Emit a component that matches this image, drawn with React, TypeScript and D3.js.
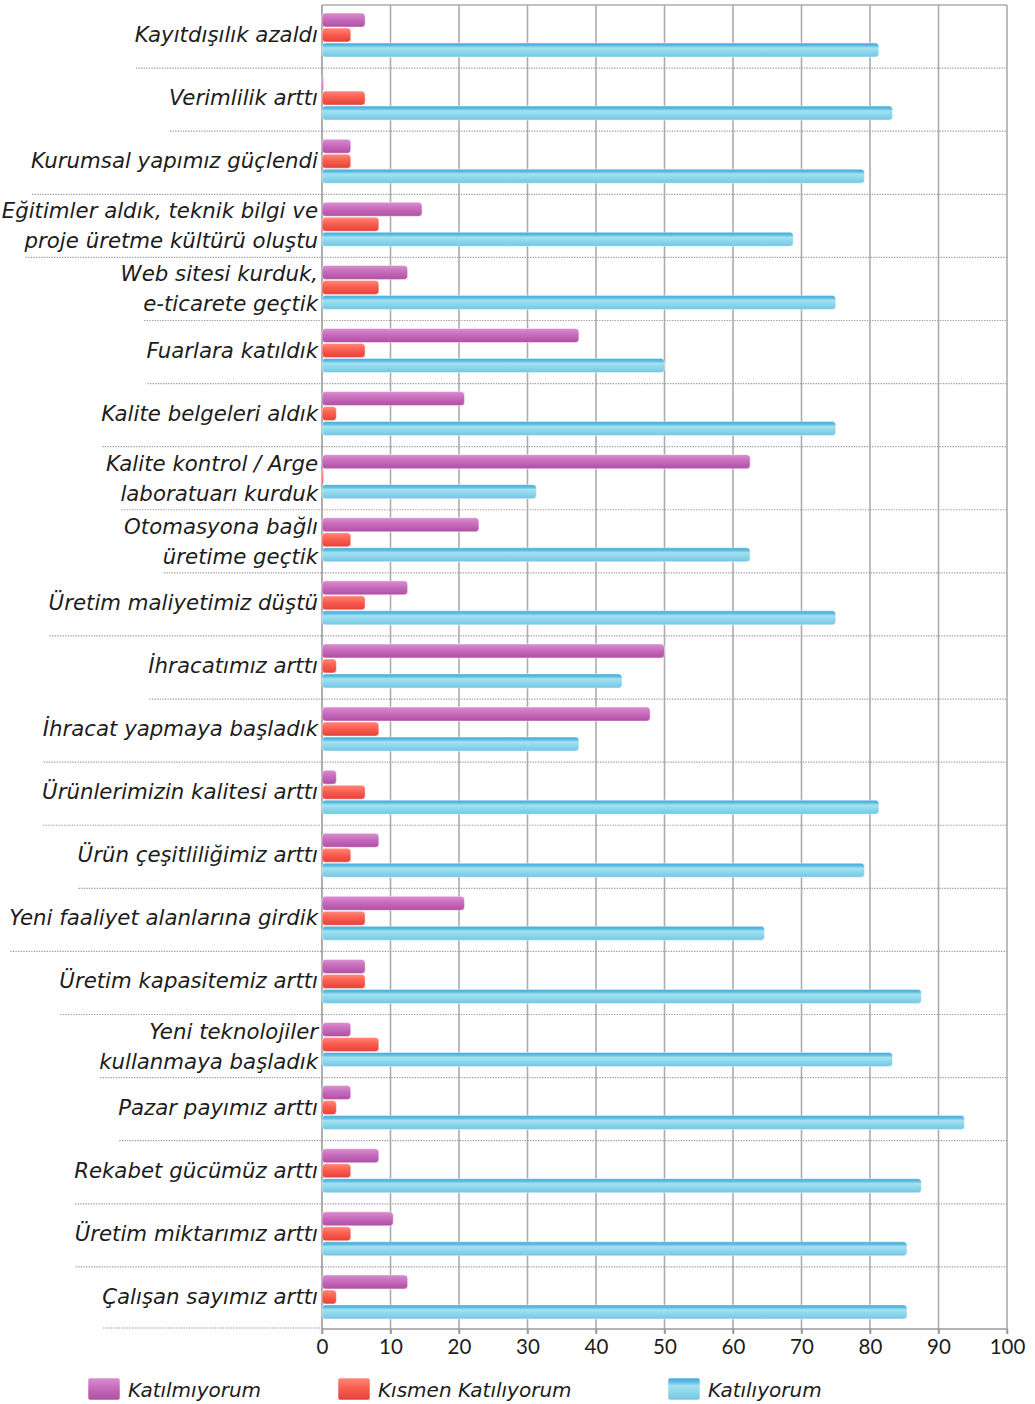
import React, { useEffect, useRef } from "react";
import * as d3 from "d3";

// survey answers, % of firms (n = 48)
const categories = [
  ["Kayıtdışılık azaldı"],
  ["Verimlilik arttı"],
  ["Kurumsal yapımız güçlendi"],
  ["Eğitimler aldık, teknik bilgi ve", "proje üretme kültürü oluştu"],
  ["Web sitesi kurduk,", "e-ticarete geçtik"],
  ["Fuarlara katıldık"],
  ["Kalite belgeleri aldık"],
  ["Kalite kontrol / Arge", "laboratuarı kurduk"],
  ["Otomasyona bağlı", "üretime geçtik"],
  ["Üretim maliyetimiz düştü"],
  ["İhracatımız arttı"],
  ["İhracat yapmaya başladık"],
  ["Ürünlerimizin kalitesi arttı"],
  ["Ürün çeşitliliğimiz arttı"],
  ["Yeni faaliyet alanlarına girdik"],
  ["Üretim kapasitemiz arttı"],
  ["Yeni teknolojiler", "kullanmaya başladık"],
  ["Pazar payımız arttı"],
  ["Rekabet gücümüz arttı"],
  ["Üretim miktarımız arttı"],
  ["Çalışan sayımız arttı"],
];

const katilmiyorum = [6.3, 0, 4.2, 14.6, 12.5, 37.5, 20.8, 62.5, 22.9, 12.5, 50, 47.9, 2.1, 8.3, 20.8, 6.3, 4.2, 4.2, 8.3, 10.4, 12.5];
const kismen = [4.2, 6.3, 4.2, 8.3, 8.3, 6.3, 2.1, 0, 4.2, 6.3, 2.1, 8.3, 6.3, 4.2, 6.3, 6.3, 8.3, 2.1, 4.2, 4.2, 2.1];
const katiliyorum = [81.3, 83.3, 79.2, 68.8, 75, 50, 75, 31.3, 62.5, 75, 43.8, 37.5, 81.3, 79.2, 64.6, 87.5, 83.3, 93.8, 87.5, 85.4, 85.4];

const seriesNames = ["Katılmıyorum", "Kısmen Katılıyorum", "Katılıyorum"];
const xTicks = [0, 10, 20, 30, 40, 50, 60, 70, 80, 90, 100];

const W = 1035, H = 1404;
const FONT = "'DejaVu Sans', 'Open Sans', sans-serif";
const TICK_FONT = "Lato, 'Open Sans', sans-serif";

export default function App() {
  const ref = useRef(null);

  useEffect(() => {
    const svg = d3.select(ref.current);
    svg.selectAll("*").remove();

    const x = d3.scaleLinear().domain([0, 100]).range([322, 1007]);
    const y = d3.scaleBand().domain(d3.range(categories.length).map(String)).range([5, 1330]);
    const band = y.bandwidth();

    const defs = svg.append("defs");
    const grads = [
      [["0", "#d98fd0"], ["0.45", "#c76cbc"], ["1", "#b04ea4"]],
      [["0", "#ff8878"], ["0.45", "#fa5f50"], ["1", "#e5403a"]],
      [["0", "#45acd9"], ["0.18", "#5bbbe2"], ["0.35", "#a4e2f0"], ["1", "#72c6e5"]],
    ];
    grads.forEach((stops, i) => {
      const g = defs.append("linearGradient").attr("id", "g" + i).attr("x1", 0).attr("y1", 0).attr("x2", 0).attr("y2", 1);
      stops.forEach(([o, c]) => g.append("stop").attr("offset", o).attr("stop-color", c));
    });

    // grid
    const grid = svg.append("g");
    grid.selectAll("line.v").data(xTicks).enter().append("line")
      .attr("x1", d => x(d)).attr("x2", d => x(d))
      .attr("y1", 5).attr("y2", 1334)
      .attr("stroke", d => d === 0 ? "#9a9a9a" : "#acacac")
      .attr("stroke-width", 1.6);
    grid.append("line").attr("x1", x(0)).attr("x2", x(100)).attr("y1", 5).attr("y2", 5)
      .attr("stroke", "#acacac").attr("stroke-width", 1.6);
    grid.append("line").attr("x1", x(0)).attr("x2", x(100)).attr("y1", 1329).attr("y2", 1329)
      .attr("stroke", "#9a9a9a").attr("stroke-width", 1.6);

    // labels
    const labels = svg.append("g").attr("font-family", FONT).attr("font-style", "italic")
      .attr("font-size", 21.3).attr("fill", "#1d1d1b").attr("text-anchor", "end");

    const seps = svg.append("g");
    categories.forEach((lines, i) => {
      const cy = y(String(i)) + band / 2;
      let lastLeft = 318;
      lines.forEach((ln, j) => {
        const dy = lines.length === 1 ? -2 : (j === 0 ? -15 : 15);
        const t = labels.append("text").attr("x", 318).attr("y", cy + dy)
          .attr("dominant-baseline", "central").text(ln);
        const len = (t.node() as any).getComputedTextLength();
        lastLeft = 318 - len;
      });
      const sy = y(String(i)) + band;
      if (i < categories.length - 1) {
        seps.append("line").attr("x1", lastLeft + 1).attr("x2", x(100)).attr("y1", sy).attr("y2", sy)
          .attr("stroke", "#9c9c9c").attr("stroke-width", 1.2).attr("stroke-dasharray", "1.3,1.3");
      } else {
        seps.append("line").attr("x1", lastLeft + 1).attr("x2", x(0)).attr("y1", sy - 2).attr("y2", sy - 2)
          .attr("stroke", "#9c9c9c").attr("stroke-width", 1.2).attr("stroke-dasharray", "1.3,1.3");
      }
    });

    // bars
    const series = [katilmiyorum, kismen, katiliyorum];
    const bars = svg.append("g");
    series.forEach((vals, s) => {
      bars.selectAll("rect.s" + s).data(vals).enter().append("rect")
        .attr("x", x(0))
        .attr("y", (d, i) => y(String(i)) + 8 + s * 15)
        .attr("width", d => Math.max(x(d) - x(0), 1.5))
        .attr("height", 14)
        .attr("rx", d => (d === 0 ? 0.7 : 3.5))
        .attr("fill", "url(#g" + s + ")")
        .attr("stroke", "#ffffff").attr("stroke-opacity", 0.55).attr("stroke-width", 0.8);
    });

    // axis
    const axis = svg.append("g").attr("transform", "translate(0,1329)")
      .call(d3.axisBottom(x).tickValues(xTicks).tickSize(5).tickPadding(8));
    axis.select(".domain").remove();
    axis.selectAll(".tick line").attr("stroke", "#9a9a9a").attr("stroke-width", 1.6);
    axis.selectAll(".tick text").attr("font-family", TICK_FONT).attr("font-size", 20.5)
      .attr("fill", "#1d1d1b").attr("dy", "0.6em");

    // legend
    const legX = [88, 338, 668];
    const leg = svg.append("g");
    seriesNames.forEach((n, i) => {
      leg.append("rect").attr("x", legX[i]).attr("y", 1378).attr("width", 32).attr("height", 22)
        .attr("rx", 2).attr("fill", "url(#g" + i + ")")
        .attr("stroke", "#ffffff").attr("stroke-opacity", 0.5);
      leg.append("text").attr("x", legX[i] + 40).attr("y", 1390).attr("dominant-baseline", "central")
        .attr("font-family", FONT).attr("font-style", "italic").attr("font-size", 20)
        .attr("fill", "#1d1d1b").text(n);
    });
  }, []);

  return (
    <div style={{ position: "absolute", left: 0, top: 0 }}>
      <svg ref={ref} width={W} height={H} style={{ display: "block", background: "#fff" }} />
    </div>
  );
}
